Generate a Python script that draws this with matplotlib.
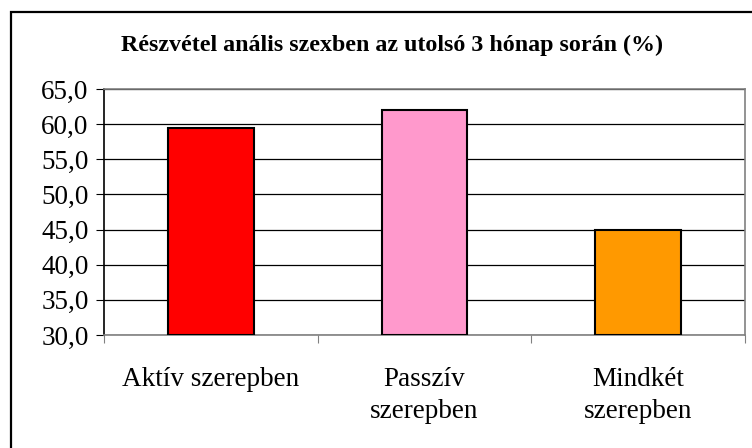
import matplotlib
matplotlib.use('Agg')
from matplotlib import pyplot as plt
from matplotlib.patches import Rectangle
from matplotlib.ticker import FuncFormatter

# data
categories = ['Aktív szerepben', 'Passzív\nszerepben', 'Mindkét\nszerepben']
values = [59.5, 62.0, 45.0]
colors = ['#ff0000', '#ff99cc', '#ff9900']
title = 'Részvétel anális szexben az utolsó 3 hónap során (%)'
y_ticks = [30, 35, 40, 45, 50, 55, 60, 65]

plt.rcParams['font.family'] = ['Liberation Serif', 'DejaVu Serif']

fig = plt.figure(figsize=(7.52, 4.48), dpi=100)
ax = fig.add_axes([104/752, 1 - 335/448, (745 - 104)/752, (335 - 89)/448])

x = range(len(categories))
ax.bar(x, [v - 30 for v in values], bottom=30, width=0.4, color=colors,
       edgecolor='black', linewidth=1.5, zorder=3)

ax.set_ylim(30, 65)
ax.set_xlim(-0.5, 2.5)
ax.set_yticks(y_ticks)
ax.yaxis.set_major_formatter(FuncFormatter(lambda v, p: f'{v:.1f}'.replace('.', ',')))
ax.grid(axis='y', color='black', linewidth=0.9, zorder=0)

# category labels centred, ticks on the boundaries
ax.set_xticks([-0.5, 0.5, 1.5, 2.5])
ax.set_xticklabels([])
ax.set_xticks(list(x), minor=True)
ax.set_xticklabels(categories, minor=True, fontsize=19.5, linespacing=1.38)
ax.tick_params(axis='x', which='minor', length=0, pad=23)
ax.tick_params(axis='x', which='major', length=6, color='#808080', direction='out')
ax.tick_params(axis='y', length=6, direction='out', labelsize=19.5, pad=5)

for s in ['top', 'right', 'bottom']:
    ax.spines[s].set_color('#808080')
    ax.spines[s].set_linewidth(1.2)
ax.spines['left'].set_color('black')
ax.spines['left'].set_linewidth(1.2)

fig.text(392/752, 1 - 45/448, title, ha='center', va='center',
         fontsize=17.3, fontweight='bold')

# outer chart border (runs past right and bottom edges)
fig.patches.append(Rectangle((10.5/752, -0.2), 1.2, 1 - 12.5/448 + 0.2,
                             transform=fig.transFigure, fill=False,
                             edgecolor='black', linewidth=1.6))

fig.savefig('out.png', dpi=100)
